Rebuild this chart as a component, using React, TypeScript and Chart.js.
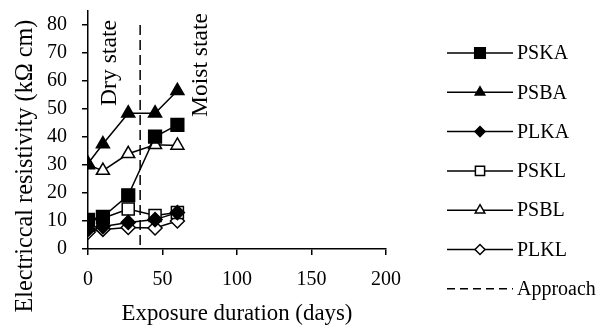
import React, { useEffect, useRef } from 'react';
import { Chart, registerables } from 'chart.js';

Chart.register(...registerables);

// ---- data ----
const days = [0, 10, 27, 45, 60];
const seriesNames = ['PSKA', 'PSBA', 'PLKA', 'PSKL', 'PSBL', 'PLKL'];
const PSKA = [10.4, 11.5, 19.2, 40.1, 44.3];
const PSBA = [30.5, 37.5, 48.5, 48.5, 56.5];
const PLKA = [7, 8, 9.5, 10.5, 13];
const PSKL = [10, 11, 14.3, 12, 13];
const PSBL = [30, 28, 34, 37.2, 37];
const PLKL = [6, 7, 7.7, 7.5, 10];
const approachName = 'Approach';
const approachDays = [35, 35];
const approachValues = [80, 0];
const xTickValues = [0, 50, 100, 150, 200];
const yTickValues = [0, 10, 20, 30, 40, 50, 60, 70, 80];
const xTitle = 'Exposure duration (days)';
const yTitle = 'Electriccal resistivity (kΩ cm)';
const dryLabel = 'Dry state';
const moistLabel = 'Moist state';

const FONT = '"Liberation Serif", "Times New Roman", serif';

type Style = { pointStyle: string; filled: boolean; radius: number; legendRadius: number };
const styles: Style[] = [
  { pointStyle: 'rect', filled: true, radius: 9, legendRadius: 7.5 },
  { pointStyle: 'triangle', filled: true, radius: 7.5, legendRadius: 5.5 },
  { pointStyle: 'rectRot', filled: true, radius: 7, legendRadius: 5 },
  { pointStyle: 'rect', filled: false, radius: 8.5, legendRadius: 6.5 },
  { pointStyle: 'triangle', filled: false, radius: 7.5, legendRadius: 5.5 },
  { pointStyle: 'rectRot', filled: false, radius: 7, legendRadius: 5 },
];
const seriesValues = [PSKA, PSBA, PLKA, PSKL, PSBL, PLKL];

function fitFont(ctx: CanvasRenderingContext2D, text: string, width: number, base: number) {
  ctx.font = `${base}px ${FONT}`;
  const w = ctx.measureText(text).width;
  const size = (base * width) / w;
  ctx.font = `${size}px ${FONT}`;
}

function drawMarker(ctx: CanvasRenderingContext2D, style: string, r: number, x: number, y: number) {
  ctx.beginPath();
  if (style === 'rect') {
    const s = Math.SQRT1_2 * r;
    ctx.rect(x - s, y - s, 2 * s, 2 * s);
  } else if (style === 'triangle') {
    let a = 0;
    ctx.moveTo(x + Math.sin(a) * r, y - Math.cos(a) * r);
    a += (2 * Math.PI) / 3;
    ctx.lineTo(x + Math.sin(a) * r, y - Math.cos(a) * r);
    a += (2 * Math.PI) / 3;
    ctx.lineTo(x + Math.sin(a) * r, y - Math.cos(a) * r);
    ctx.closePath();
  } else {
    ctx.moveTo(x - r, y);
    ctx.lineTo(x, y - r);
    ctx.lineTo(x + r, y);
    ctx.lineTo(x, y + r);
    ctx.closePath();
  }
  ctx.fill();
  ctx.stroke();
}

const overlayPlugin = {
  id: 'overlay',
  afterDraw(chart: any) {
    const ctx: CanvasRenderingContext2D = chart.ctx;
    const xs = chart.scales.x;
    ctx.save();
    ctx.fillStyle = '#000';
    ctx.textAlign = 'center';
    ctx.textBaseline = 'middle';

    // x title
    fitFont(ctx, xTitle, 231, 22);
    ctx.fillText(xTitle, (xs.left + xs.right) / 2, 314);

    // y title
    ctx.save();
    ctx.translate(26, 166);
    ctx.rotate(-Math.PI / 2);
    fitFont(ctx, yTitle, 293, 22);
    ctx.fillText(yTitle, 0, 0);
    ctx.restore();

    // Dry state
    ctx.save();
    ctx.translate(110, 63);
    ctx.rotate(-Math.PI / 2);
    fitFont(ctx, dryLabel, 86, 20);
    ctx.fillText(dryLabel, 0, 0);
    ctx.restore();

    // Moist state
    ctx.save();
    ctx.translate(201, 65);
    ctx.rotate(-Math.PI / 2);
    fitFont(ctx, moistLabel, 104, 20);
    ctx.fillText(moistLabel, 0, 0);
    ctx.restore();

    // legend
    const lx0 = 447, lx1 = 513, lmx = 480, tx = 517;
    const rowY0 = 53, rowStep = 39.3;
    ctx.textAlign = 'left';
    ctx.font = `20px ${FONT}`;
    chart.data.datasets.forEach((ds: any, i: number) => {
      const y = rowY0 + i * rowStep;
      ctx.save();
      ctx.strokeStyle = '#000';
      ctx.lineWidth = 1.5;
      if (ds.borderDash && ds.borderDash.length) ctx.setLineDash([8, 5]);
      ctx.beginPath();
      ctx.moveTo(lx0, y);
      ctx.lineTo(lx1, y);
      ctx.stroke();
      ctx.setLineDash([]);
      if (i < styles.length) {
        const st = styles[i];
        ctx.fillStyle = st.filled ? '#000' : '#fff';
        ctx.lineWidth = 1.5;
        drawMarker(ctx, st.pointStyle, st.legendRadius, lmx, y);
      }
      ctx.restore();
      ctx.fillStyle = '#000';
      ctx.fillText(ds.label, tx, y + 1);
    });
    ctx.restore();
  },
};

export default function App() {
  const ref = useRef<HTMLCanvasElement | null>(null);
  useEffect(() => {
    document.body.style.margin = '0';
    const canvas = ref.current!;
    const datasets: any[] = seriesNames.map((name, i) => ({
      label: name,
      data: days.map((d, j) => ({ x: d, y: seriesValues[i][j] })),
      showLine: true,
      borderColor: '#000',
      borderWidth: 1.5,
      pointStyle: styles[i].pointStyle,
      pointRadius: styles[i].radius,
      pointHoverRadius: styles[i].radius,
      pointBackgroundColor: styles[i].filled ? '#000' : '#fff',
      pointBorderColor: '#000',
      pointBorderWidth: 1.5,
      backgroundColor: styles[i].filled ? '#000' : '#fff',
    }));
    datasets.push({
      label: approachName,
      data: approachDays.map((d, j) => ({ x: d, y: approachValues[j] })),
      showLine: true,
      borderColor: '#000',
      borderWidth: 1.5,
      borderDash: [10, 5],
      pointRadius: 0,
    });
    const chart = new Chart(canvas, {
      type: 'scatter',
      data: { datasets },
      options: {
        animation: false,
        responsive: false,
        devicePixelRatio: 1,
        layout: { padding: { left: 0, top: 11, right: 228, bottom: 0 } },
        plugins: { legend: { display: false }, tooltip: { enabled: false } },
        scales: {
          x: {
            type: 'linear',
            min: 0,
            max: 200,
            afterBuildTicks: (axis: any) => {
              axis.ticks = xTickValues.map((v) => ({ value: v }));
            },
            afterFit: (scale: any) => {
              scale.height = 78;
              scale.paddingLeft = 0;
              scale.paddingRight = 0;
            },
            ticks: { color: '#000', font: { family: FONT, size: 20, lineHeight: 1 }, padding: 15, maxRotation: 0 },
            grid: { display: true, drawOnChartArea: false, drawTicks: true, tickLength: 6, color: '#000', lineWidth: 1.5 },
            border: { display: true, color: '#000', width: 1.5 },
          },
          y: {
            type: 'linear',
            min: 0,
            max: 85,
            afterBuildTicks: (axis: any) => {
              axis.ticks = yTickValues.map((v) => ({ value: v }));
            },
            afterFit: (scale: any) => {
              scale.width = 88;
              scale.paddingTop = 0;
              scale.paddingBottom = 0;
            },
            ticks: { color: '#000', font: { family: FONT, size: 20, lineHeight: 1 }, padding: 15 },
            grid: { display: true, drawOnChartArea: false, drawTicks: true, tickLength: 6, color: '#000', lineWidth: 1.5 },
            border: { display: true, color: '#000', width: 1.5 },
          },
        },
      },
      plugins: [overlayPlugin],
    } as any);
    return () => chart.destroy();
  }, []);
  return (
    <div style={{ width: 614, height: 327, background: '#fff' }}>
      <canvas ref={ref} width={614} height={327} style={{ width: 614, height: 327, display: 'block' }} />
    </div>
  );
}
